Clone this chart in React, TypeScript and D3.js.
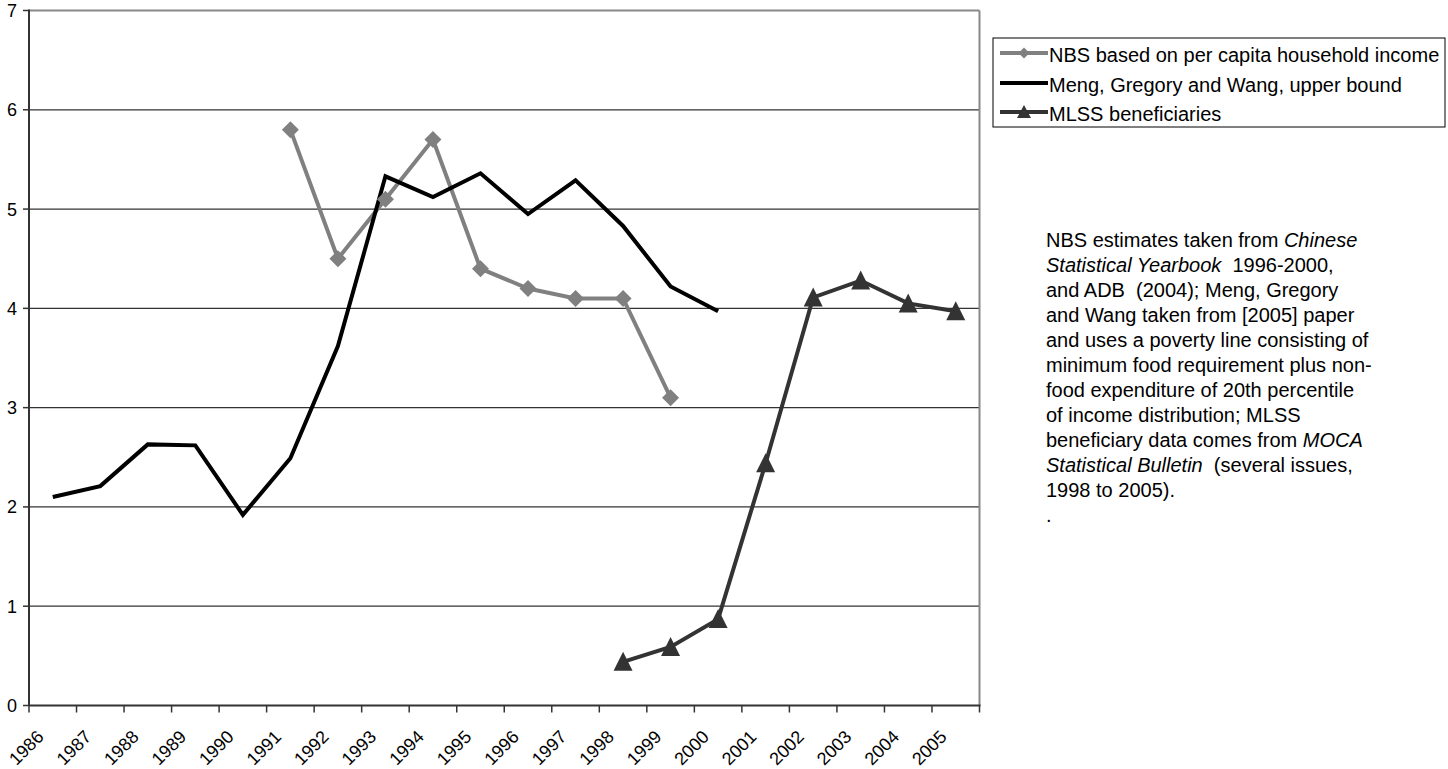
import React from 'react';
import * as d3 from 'd3';

const years = ['1986','1987','1988','1989','1990','1991','1992','1993','1994','1995','1996','1997','1998','1999','2000','2001','2002','2003','2004','2005'];
const nbsYears = ['1991','1992','1993','1994','1995','1996','1997','1998','1999'];
const nbsValues = [5.8, 4.5, 5.1, 5.7, 4.4, 4.2, 4.1, 4.1, 3.1];
const mengYears = ['1986','1987','1988','1989','1990','1991','1992','1993','1994','1995','1996','1997','1998','1999','2000'];
const mengValues = [2.1, 2.21, 2.63, 2.62, 1.92, 2.49, 3.62, 5.33, 5.12, 5.36, 4.95, 5.29, 4.83, 4.22, 3.97];
const mlssYears = ['1998','1999','2000','2001','2002','2003','2004','2005'];
const mlssValues = [0.44, 0.59, 0.87, 2.44, 4.11, 4.28, 4.05, 3.97];
const yTicks = [0, 1, 2, 3, 4, 5, 6, 7];
const seriesNames = ['NBS based on per capita household income', 'Meng, Gregory and Wang, upper bound', 'MLSS beneficiaries'];
const seriesColors = ['#808080', '#000000', '#333333'];

type Seg = { t: string; i?: boolean };
const noteLines: Seg[][] = [
  [{ t: 'NBS estimates taken from ' }, { t: 'Chinese', i: true }],
  [{ t: 'Statistical Yearbook', i: true }, { t: '  1996-2000,' }],
  [{ t: 'and ADB  (2004); Meng, Gregory' }],
  [{ t: 'and Wang taken from [2005] paper' }],
  [{ t: 'and uses a poverty line consisting of' }],
  [{ t: 'minimum food requirement plus non-' }],
  [{ t: 'food expenditure of 20th percentile' }],
  [{ t: 'of income distribution; MLSS' }],
  [{ t: 'beneficiary data comes from ' }, { t: 'MOCA', i: true }],
  [{ t: 'Statistical Bulletin', i: true }, { t: '  (several issues,' }],
  [{ t: '1998 to 2005).' }],
  [{ t: '.' }],
];

const FONT = '"Liberation Sans", Arial, Helvetica, sans-serif';

export default function App() {
  const W = 1448, H = 769;
  const L = 29, R = 979.5, T = 10.5, B = 705.5;
  const x = d3.scaleBand<string>().domain(years).range([L, R]).padding(0);
  const cx = (yr: string) => (x(yr) as number) + x.bandwidth() / 2;
  const y = d3.scaleLinear().domain([0, 7]).range([B, T]);

  const line = d3.line<[string, number]>().x(d => cx(d[0])).y(d => y(d[1]));
  const nbs = nbsYears.map((yr, i) => [yr, nbsValues[i]] as [string, number]);
  const meng = mengYears.map((yr, i) => [yr, mengValues[i]] as [string, number]);
  const mlss = mlssYears.map((yr, i) => [yr, mlssValues[i]] as [string, number]);

  const diamond = (s: number) => `M0,${-s}L${s},0L0,${s}L${-s},0Z`;
  const tri = (w: number, up: number, down: number) => `M0,${-up}L${w},${down}L${-w},${down}Z`;

  const boundaries = [...years.map(yr => x(yr) as number), R];
  const legendRows = [53, 83, 112];

  return (
    <svg width={W} height={H} style={{ position: 'absolute', left: 0, top: 0, background: '#fff' }} fontFamily={FONT}>
      <rect x={0} y={0} width={W} height={H} fill="#fff" />
      {/* gridlines */}
      {yTicks.filter(v => v > 0 && v < 7).map(v => (
        <line key={'g' + v} x1={L} x2={R} y1={y(v)} y2={y(v)} stroke="#333" strokeWidth={1.2} />
      ))}
      {/* plot border top/right */}
      <line x1={L} x2={R} y1={y(7)} y2={y(7)} stroke="#888" strokeWidth={2} />
      <line x1={R} x2={R} y1={T} y2={B} stroke="#888" strokeWidth={2} />
      {/* axes */}
      <line x1={L} x2={L} y1={T - 1} y2={B} stroke="#333" strokeWidth={2} />
      <line x1={L} x2={R + 1} y1={B} y2={B} stroke="#333" strokeWidth={2} />
      {yTicks.map(v => (
        <g key={'yt' + v}>
          <line x1={L - 6} x2={L} y1={y(v)} y2={y(v)} stroke="#333" strokeWidth={1.5} />
          <text x={17} y={y(v)} dy="0.36em" textAnchor="end" fontSize={18} fill="#000">{v}</text>
        </g>
      ))}
      {boundaries.map((bx, i) => (
        <line key={'xt' + i} x1={bx} x2={bx} y1={B} y2={B + 7} stroke="#333" strokeWidth={1.5} />
      ))}
      {years.map(yr => (
        <text key={'xl' + yr} transform={`translate(${cx(yr) - 8},${738}) rotate(-45)`} textAnchor="end" fontSize={18} fill="#000">{yr}</text>
      ))}
      {/* series lines */}
      <path d={line(nbs) || ''} fill="none" stroke={seriesColors[0]} strokeWidth={4} strokeLinejoin="miter" />
      <path d={line(meng) || ''} fill="none" stroke={seriesColors[1]} strokeWidth={4} strokeLinejoin="miter" />
      <path d={line(mlss) || ''} fill="none" stroke={seriesColors[2]} strokeWidth={4} strokeLinejoin="miter" />
      {/* markers */}
      {nbs.map(d => (
        <path key={'dm' + d[0]} d={diamond(8.5)} transform={`translate(${cx(d[0])},${y(d[1])})`} fill={seriesColors[0]} />
      ))}
      {mlss.map(d => (
        <path key={'tr' + d[0]} d={tri(9.5, 10, 9)} transform={`translate(${cx(d[0])},${y(d[1])})`} fill={seriesColors[2]} />
      ))}
      {/* legend */}
      <rect x={993} y={38} width={452} height={89} fill="#fff" stroke="#000" strokeWidth={1} />
      {seriesNames.map((name, i) => (
        <g key={'lg' + i}>
          <line x1={1000} x2={1048} y1={legendRows[i]} y2={legendRows[i]} stroke={seriesColors[i]} strokeWidth={4} />
          {i === 0 && <path d={diamond(5.5)} transform={`translate(1024,${legendRows[i]})`} fill={seriesColors[0]} />}
          {i === 2 && <path d={tri(7, 7, 6)} transform={`translate(1024,${legendRows[i]})`} fill={seriesColors[2]} />}
          <text x={1049} y={legendRows[i] + 1.5} dy="0.36em" fontSize={20} fill="#000">{name}</text>
        </g>
      ))}
      {/* note */}
      {noteLines.map((segs, i) => (
        <text key={'n' + i} x={1046} y={247 + 25 * i} fontSize={20} fill="#000" style={{ whiteSpace: 'pre' }}>
          {segs.map((s, j) => (
            <tspan key={j} fontStyle={s.i ? 'italic' : 'normal'}>{s.t}</tspan>
          ))}
        </text>
      ))}
    </svg>
  );
}
